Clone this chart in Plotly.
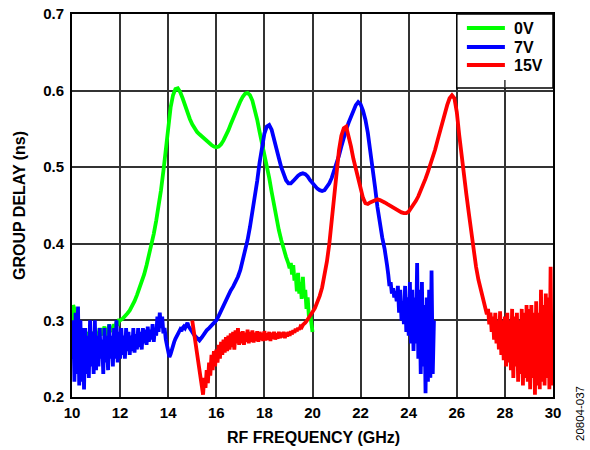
import numpy as np
import plotly.graph_objects as go

# ---------------- data (GHz, ns) ----------------
# 0 V trace
green_f_lo = np.round(np.arange(10.0, 12.0001, 0.05), 3)
green_v_lo = [0.28, 0.32, 0.315, 0.30, 0.29, 0.285, 0.28, 0.29, 0.275, 0.285,
              0.27, 0.28, 0.275, 0.285, 0.27, 0.28, 0.275, 0.285, 0.28, 0.285,
              0.275, 0.285, 0.28, 0.29, 0.28, 0.29, 0.285, 0.292, 0.28, 0.29,
              0.285, 0.295, 0.285, 0.29, 0.288, 0.295, 0.29, 0.298, 0.293, 0.30,
              0.30]
green_f_mid = np.round(np.arange(12.1, 19.0001, 0.1), 3)
green_v_mid = [0.302, 0.305, 0.309, 0.313, 0.318, 0.325, 0.333, 0.341, 0.35,
               0.36, 0.372, 0.385, 0.398, 0.413, 0.43, 0.448, 0.47, 0.495, 0.522,
               0.552, 0.578, 0.594, 0.602, 0.603, 0.598, 0.59, 0.58, 0.571, 0.563,
               0.556, 0.55, 0.546, 0.543, 0.54, 0.537, 0.535, 0.532, 0.529, 0.527,
               0.526, 0.527, 0.53, 0.535, 0.541, 0.548, 0.556, 0.564, 0.572, 0.579,
               0.586, 0.592, 0.596, 0.597, 0.594, 0.587, 0.576, 0.562, 0.546, 0.532,
               0.517, 0.503, 0.486, 0.468, 0.45, 0.433, 0.418, 0.405, 0.393, 0.383,
               0.374]
green_f_hi = np.round(np.arange(19.05, 20.0001, 0.05), 3)
green_v_hi = [0.368, 0.375, 0.36, 0.372, 0.352, 0.36, 0.338, 0.362, 0.335, 0.35,
              0.328, 0.357, 0.33, 0.34, 0.315, 0.33, 0.305, 0.31, 0.29, 0.285]

# 7 V trace
blue_f_lo = np.round(np.arange(10.0, 15.0001, 0.05), 3)
blue_v_lo = [0.25, 0.30, 0.22, 0.31, 0.23, 0.318, 0.215, 0.30, 0.22, 0.29,
             0.21, 0.29, 0.23, 0.28, 0.225, 0.30, 0.24, 0.285, 0.23, 0.30,
             0.235, 0.28, 0.24, 0.29, 0.25, 0.275, 0.23, 0.29, 0.245, 0.28,
             0.235, 0.295, 0.25, 0.28, 0.24, 0.29, 0.25, 0.30, 0.245, 0.285,
             0.25, 0.29, 0.255, 0.28, 0.25, 0.29, 0.26, 0.285, 0.255, 0.28,
             0.26, 0.29, 0.258, 0.282, 0.262, 0.29, 0.265, 0.285, 0.262, 0.29,
             0.27, 0.288, 0.268, 0.292, 0.272, 0.288, 0.275, 0.295, 0.272, 0.29,
             0.28, 0.305, 0.285, 0.31, 0.29, 0.305, 0.283, 0.29, 0.275, 0.268,
             0.258, 0.252, 0.256, 0.263, 0.27, 0.272, 0.276, 0.28, 0.282, 0.285,
             0.288, 0.286, 0.29, 0.292, 0.29, 0.295, 0.297, 0.292, 0.29, 0.287,
             0.285]
blue_f_mid = np.round(np.arange(15.1, 23.0001, 0.1), 3)
blue_v_mid = [0.28, 0.276, 0.274, 0.278, 0.283, 0.287, 0.29, 0.293, 0.297,
              0.30, 0.306, 0.313, 0.32, 0.327, 0.333, 0.339, 0.344, 0.35, 0.357,
              0.366, 0.378, 0.391, 0.405, 0.422, 0.44, 0.46, 0.482, 0.506, 0.528,
              0.544, 0.553, 0.555, 0.549, 0.538, 0.525, 0.512, 0.5, 0.49, 0.483,
              0.479, 0.479, 0.482, 0.486, 0.489, 0.491, 0.492, 0.491, 0.488, 0.483,
              0.479, 0.475, 0.472, 0.47, 0.469, 0.47, 0.474, 0.479, 0.486, 0.495,
              0.505, 0.515, 0.527, 0.539, 0.549, 0.558, 0.566, 0.574, 0.581, 0.585,
              0.582, 0.574, 0.562, 0.545, 0.524, 0.5, 0.474, 0.448, 0.425, 0.408,
              0.393]
blue_f_hi = np.round(np.arange(23.05, 25.0501, 0.05), 3)
blue_v_hi = [0.385, 0.372, 0.36, 0.345, 0.35, 0.335, 0.342, 0.33, 0.338, 0.325,
             0.345, 0.31, 0.34, 0.30, 0.325, 0.295, 0.345, 0.285, 0.33,
             0.28, 0.35, 0.27, 0.34, 0.26, 0.33, 0.27, 0.375, 0.25, 0.34,
             0.23, 0.35, 0.24, 0.32, 0.205, 0.33, 0.22, 0.34, 0.225, 0.365,
             0.23, 0.30]

# 15 V trace
red_f_lo = np.round(np.arange(15.0, 20.0001, 0.05), 3)
red_v_lo = [0.30, 0.29, 0.275, 0.265, 0.255, 0.245, 0.237, 0.225, 0.215, 0.203,
            0.225, 0.212, 0.235, 0.218, 0.245, 0.228, 0.255, 0.235, 0.26, 0.24,
            0.262, 0.245, 0.268, 0.25, 0.272, 0.255, 0.275, 0.258, 0.278, 0.26,
            0.28, 0.262, 0.283, 0.265, 0.285, 0.262, 0.287, 0.27, 0.29, 0.268,
            0.285, 0.27, 0.286, 0.268, 0.284, 0.272, 0.288, 0.27, 0.285, 0.272,
            0.287, 0.271, 0.284, 0.273, 0.286, 0.272, 0.285, 0.274, 0.284, 0.273,
            0.286, 0.274, 0.283, 0.275, 0.285, 0.273, 0.284, 0.276, 0.285, 0.275,
            0.283, 0.276, 0.285, 0.277, 0.284, 0.278, 0.285, 0.277, 0.284, 0.279,
            0.285, 0.28, 0.286, 0.282, 0.287, 0.284, 0.289, 0.286, 0.29, 0.288,
            0.292, 0.291, 0.294, 0.295, 0.297, 0.299, 0.301, 0.303, 0.305, 0.308,
            0.311]
red_f_mid = np.round(np.arange(20.1, 27.0001, 0.1), 3)
red_v_mid = [0.316, 0.323, 0.332, 0.343, 0.358, 0.377, 0.4, 0.43, 0.46,
             0.494, 0.522, 0.541, 0.551, 0.553, 0.542, 0.527, 0.511, 0.497, 0.484,
             0.47, 0.46, 0.453, 0.452, 0.454, 0.455, 0.456, 0.458, 0.457, 0.456,
             0.454, 0.452, 0.45, 0.448, 0.446, 0.444, 0.442, 0.441, 0.44, 0.44,
             0.442, 0.446, 0.451, 0.456, 0.462, 0.469, 0.476, 0.485, 0.494, 0.503,
             0.512, 0.523, 0.535, 0.547, 0.559, 0.571, 0.581, 0.59, 0.594, 0.59,
             0.572, 0.542, 0.513, 0.49, 0.464, 0.44, 0.414, 0.39, 0.37, 0.353,
             0.34]
red_f_hi = np.round(np.arange(27.05, 30.0001, 0.05), 3)
red_v_hi = [0.335, 0.328, 0.32, 0.318, 0.308, 0.315, 0.295, 0.31, 0.285, 0.305,
            0.275, 0.31, 0.27, 0.30, 0.262, 0.312, 0.255, 0.30, 0.248,
            0.305, 0.24, 0.31, 0.245, 0.30, 0.235, 0.315, 0.225, 0.305, 0.24,
            0.31, 0.22, 0.30, 0.23, 0.315, 0.215, 0.31, 0.225, 0.32, 0.22,
            0.315, 0.21, 0.32, 0.225, 0.31, 0.203, 0.325, 0.215, 0.31, 0.21,
            0.34, 0.22, 0.32, 0.215, 0.335, 0.225, 0.33, 0.21, 0.37, 0.215,
            0.29]

series_names = ["0V", "7V", "15V"]
series_colors = ["#00FF00", "#0000FF", "#FF0000"]

x_ticks = [10, 12, 14, 16, 18, 20, 22, 24, 26, 28, 30]
y_ticks = [0.2, 0.3, 0.4, 0.5, 0.6, 0.7]

series_f = [
    np.concatenate([green_f_lo, green_f_mid, green_f_hi]),
    np.concatenate([blue_f_lo, blue_f_mid, blue_f_hi]),
    np.concatenate([red_f_lo, red_f_mid, red_f_hi]),
]
series_v = [
    green_v_lo + green_v_mid + green_v_hi,
    blue_v_lo + blue_v_mid + blue_v_hi,
    red_v_lo + red_v_mid + red_v_hi,
]

FONT = "Liberation Sans, Arial, Helvetica, sans-serif"

# page body margin is removed in post_script, so figure pixels = window pixels
W, H = 590, 450
L, R, T, B = 72, 37, 14, 53
PW, PH = W - L - R, H - T - B

fig = go.Figure()
for name, color, f, v in zip(series_names, series_colors, series_f, series_v):
    fig.add_trace(go.Scatter(x=f, y=v, mode="lines", name=name,
                             line=dict(color=color, width=3.8),
                             showlegend=False))

fig.update_layout(
    width=W, height=H,
    margin=dict(l=L, r=R, t=T, b=B),
    paper_bgcolor="white", plot_bgcolor="white",
    font=dict(family=FONT, size=14, color="black"),
)
fig.update_xaxes(
    range=[10, 30], tickvals=x_ticks, ticktext=[str(t) for t in x_ticks],
    showgrid=True, gridcolor="#333333", gridwidth=1.6,
    showline=True, linecolor="black", linewidth=2, mirror=True,
    zeroline=False, ticks="", automargin=False, ticklabelstandoff=1,
    ticklabeloverflow="allow",
    tickfont=dict(family=FONT, size=15, color="black", weight="bold"),
    title=dict(text=""),
)
fig.update_yaxes(
    range=[0.2, 0.7], tickvals=y_ticks, ticktext=[f"{t:.1f}" for t in y_ticks],
    showgrid=True, gridcolor="#333333", gridwidth=1.6,
    showline=True, linecolor="black", linewidth=2, mirror=True,
    zeroline=False, ticks="", automargin=False, ticklabelstandoff=3,
    ticklabeloverflow="allow",
    tickfont=dict(family=FONT, size=15, color="black", weight="bold"),
    title=dict(text=""),
)

def px_to_paper(px, py):
    return (px - L) / PW, (H - B - py) / PH

# axis titles
tx, ty = px_to_paper(313, 437)
fig.add_annotation(x=tx, y=ty, xref="paper", yref="paper",
                   text="<b>RF FREQUENCY (GHz)</b>", showarrow=False,
                   xanchor="center", yanchor="middle",
                   font=dict(family=FONT, size=16, color="black"))
tx, ty = px_to_paper(19, 206)
fig.add_annotation(x=tx, y=ty, xref="paper", yref="paper",
                   text="<b>GROUP DELAY (ns)</b>", showarrow=False, textangle=-90,
                   xanchor="center", yanchor="middle",
                   font=dict(family=FONT, size=16, color="black"))

# legend box (drawn manually to match the reference layout)
fig.add_shape(type="rect", xref="x", yref="y", x0=26, x1=30, y0=0.6035, y1=0.7,
              fillcolor="white", line=dict(color="black", width=1.5), layer="above")
fig.add_shape(type="line", xref="x", yref="y", x0=28, x1=28, y0=0.6035, y1=0.614,
              line=dict(color="#333333", width=1.5), layer="above")
legend_rows_y = [0.6817, 0.6569, 0.6334]
for name, color, yy in zip(series_names, series_colors, legend_rows_y):
    fig.add_shape(type="line", xref="x", yref="y", x0=26.42, x1=28.0, y0=yy, y1=yy,
                  line=dict(color=color, width=3.8), layer="above")
    fig.add_annotation(x=28.3, y=yy, xref="x", yref="y", text=f"<b>{name}</b>",
                       showarrow=False, xanchor="left", yanchor="middle",
                       font=dict(family=FONT, size=16, color="black"))

# figure id
tx, ty = px_to_paper(580, 414)
fig.add_annotation(x=tx, y=ty, xref="paper", yref="paper", text="20804-037",
                   showarrow=False, textangle=-90, xanchor="center", yanchor="middle",
                   font=dict(family=FONT, size=11.5, color="black"))

fig.write_html("out.html",
               config={"displayModeBar": False},
               post_script="document.body.style.margin='0';"
                           "document.body.style.overflow='hidden';")
